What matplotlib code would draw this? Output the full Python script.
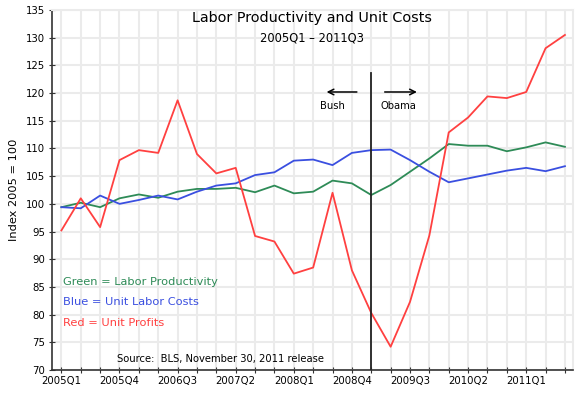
import numpy as np
import matplotlib
matplotlib.use('Agg')
import matplotlib.pyplot as plt

# quarters 2005Q1 .. 2011Q3
quarters = ['%dQ%d' % (y, q) for y in range(2005, 2012) for q in range(1, 5)][:27]

productivity = [99.4, 100.2, 99.4, 101.0, 101.7, 101.1, 102.2, 102.7, 102.7, 102.9,
                102.1, 103.3, 101.9, 102.2, 104.2, 103.7, 101.6, 103.4, 105.8, 108.2,
                110.8, 110.5, 110.5, 109.5, 110.2, 111.1, 110.3]
labor_costs = [99.4, 99.2, 101.5, 100.0, 100.7, 101.5, 100.8, 102.2, 103.3, 103.7,
               105.2, 105.7, 107.8, 108.0, 107.0, 109.2, 109.7, 109.8, 107.9, 105.8,
               103.9, 104.6, 105.3, 106.0, 106.5, 105.9, 106.8]
unit_profits = [95.2, 101.0, 95.8, 107.9, 109.7, 109.2, 118.7, 109.0, 105.5, 106.5,
                94.2, 93.2, 87.4, 88.5, 102.0, 88.0, 80.3, 74.2, 82.3, 94.3,
                112.9, 115.6, 119.4, 119.1, 120.2, 128.1, 130.5]

x = np.arange(len(quarters))

fig = plt.figure(figsize=(5.83, 4.01), dpi=100)
ax = fig.add_axes([0.0887, 0.0773, 0.8936, 0.8977])

ax.plot(x, productivity, color='#2e8b57', lw=1.3, zorder=3)
ax.plot(x, labor_costs, color='#3a4fe0', lw=1.3, zorder=3)
ax.plot(x, unit_profits, color='#ff4040', lw=1.3, zorder=3)

ax.set_xlim(-0.5, 26.4)
ax.set_ylim(70, 135)
ax.set_xticks(x)
ax.set_xticklabels([q if i % 3 == 0 else '' for i, q in enumerate(quarters)], fontsize=7.3)
ax.set_yticks(np.arange(70, 136, 5))
ax.tick_params(axis='y', labelsize=7.3)
ax.tick_params(direction='inout', length=5, width=0.8, color='#333333', pad=2)
ax.grid(True, color='#ebebeb', lw=1.5, zorder=0)
ax.set_axisbelow(True)
for s in ['top', 'right']:
    ax.spines[s].set_color('#ebebeb')
    ax.spines[s].set_linewidth(1.5)
for s in ['left', 'bottom']:
    ax.spines[s].set_color('#333333')
    ax.spines[s].set_linewidth(1.2)
ax.set_ylabel('Index 2005 = 100', fontsize=8.2, labelpad=5)

# titles inside the plot
ax.text(0.5, 0.978, 'Labor Productivity and Unit Costs', transform=ax.transAxes,
        ha='center', va='center', fontsize=10.4)
ax.text(0.5, 0.921, '2005Q1 \u2013 2011Q3', transform=ax.transAxes,
        ha='center', va='center', fontsize=8.3)

# Bush / Obama divider
ax.plot([16, 16], [70, 123.6], color='#222222', lw=1.3, zorder=4)
ax.annotate('', xy=(13.55, 120.2), xytext=(15.4, 120.2),
            arrowprops=dict(arrowstyle='->', color='black', lw=1.1))
ax.annotate('', xy=(18.5, 120.2), xytext=(16.55, 120.2),
            arrowprops=dict(arrowstyle='->', color='black', lw=1.1))
ax.text(14.0, 117.7, 'Bush', ha='center', va='center', fontsize=7.2)
ax.text(17.4, 117.7, 'Obama', ha='center', va='center', fontsize=7.2)

# colour key
ax.text(0.022, 0.245, 'Green = Labor Productivity', transform=ax.transAxes,
        color='#2e8b57', fontsize=8.2, va='center')
ax.text(0.022, 0.188, 'Blue = Unit Labor Costs', transform=ax.transAxes,
        color='#3a4fe0', fontsize=8.2, va='center')
ax.text(0.022, 0.130, 'Red = Unit Profits', transform=ax.transAxes,
        color='#ff4040', fontsize=8.2, va='center')
ax.text(0.126, 0.03, 'Source:  BLS, November 30, 2011 release', transform=ax.transAxes,
        fontsize=7.2, va='center')

fig.savefig('out.png', dpi=100)
